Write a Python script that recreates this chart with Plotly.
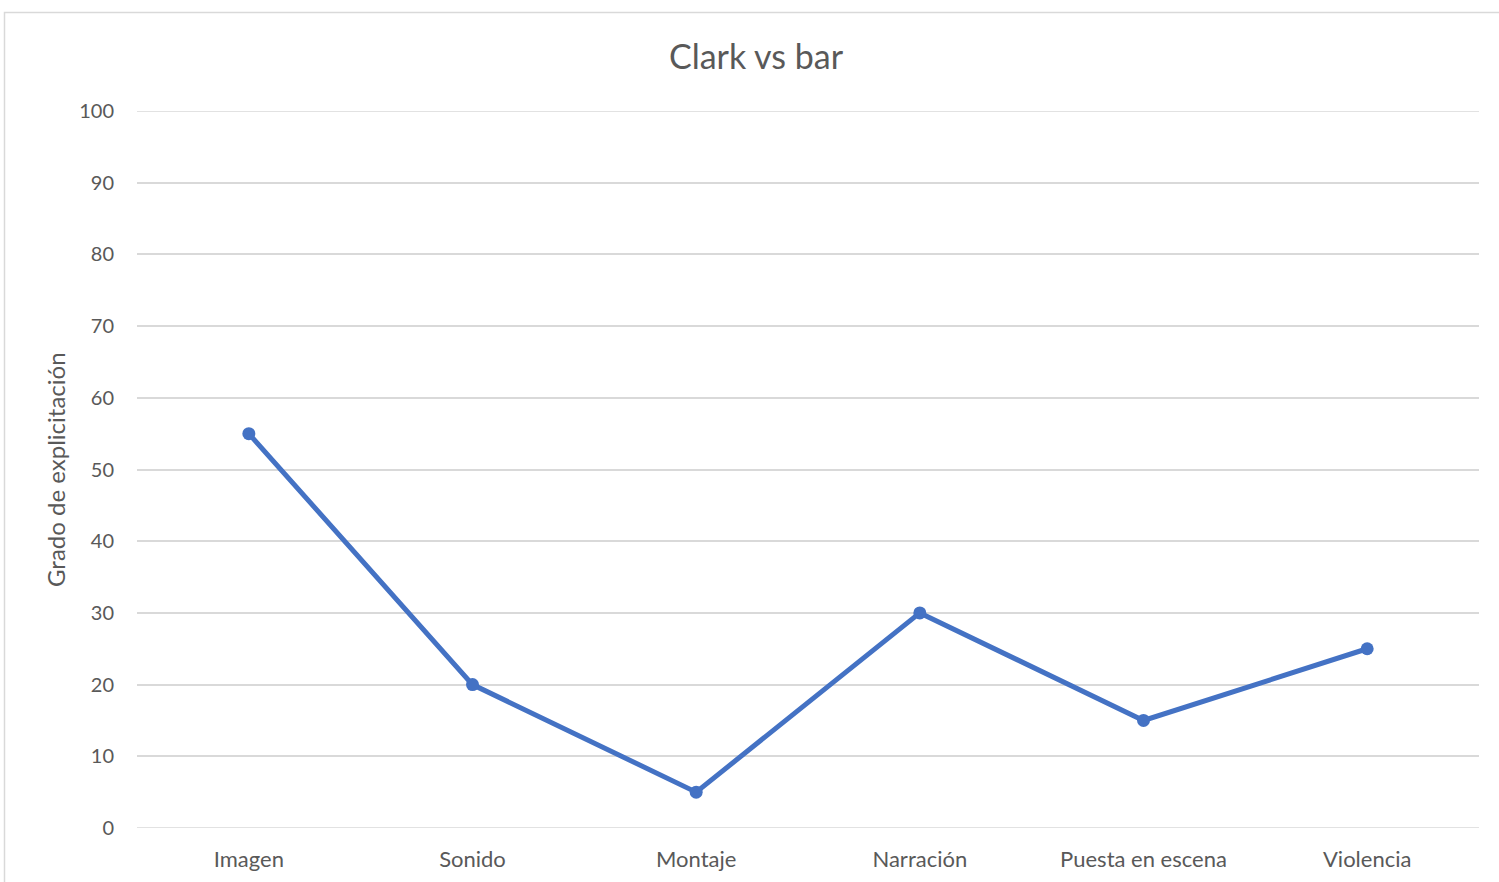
import plotly.graph_objects as go

categories = ["Imagen", "Sonido", "Montaje", "Narración", "Puesta en escena", "Violencia"]
values = [55, 20, 5, 30, 15, 25]
y_ticks = [0, 10, 20, 30, 40, 50, 60, 70, 80, 90, 100]

W, H = 1499, 882
L, R, T, B = 137, 1479, 111, 828
pw, ph = R - L, B - T

def px(x):
    return (x - L) / pw

def py(y):
    return (B - y) / ph

FONT = "Lato"
TXT = "#595959"
GRID = "#d9d9d9"
BLUE = "#4472C4"

fig = go.Figure()
fig.add_trace(go.Scatter(
    x=categories, y=values, mode="lines+markers",
    line=dict(color=BLUE, width=5),
    marker=dict(color=BLUE, size=13),
    showlegend=False, cliponaxis=False,
))

shapes = [dict(type="rect", xref="paper", yref="paper",
               x0=px(4.5), x1=px(1503), y0=py(886), y1=py(12.5),
               line=dict(color=GRID, width=1.5), layer="below")]
for yv in (y_ticks[0], y_ticks[-1]):
    shapes.append(dict(type="line", xref="paper", yref="y", x0=0, x1=1, y0=yv, y1=yv,
                       line=dict(color=GRID, width=1.5), layer="below"))

fig.update_layout(
    width=W, height=H,
    margin=dict(l=L, r=W - R, t=T, b=H - B, autoexpand=False),
    paper_bgcolor="white", plot_bgcolor="white",
    font=dict(family=FONT, color=TXT, size=20),
    title=dict(text="Clark vs bar", x=756 / W, xanchor="center", y=1 - 57 / H, yanchor="middle",
               font=dict(family=FONT, size=34, color=TXT)),
    xaxis=dict(type="category", range=[-0.5, 5.5], showgrid=False, zeroline=False,
               showline=False, ticks="", ticklabelstandoff=16, fixedrange=True, automargin=False,
               tickfont=dict(family=FONT, size=22, color=TXT)),
    yaxis=dict(range=[0, 100], tickvals=y_ticks, showgrid=True, gridcolor=GRID, gridwidth=1.5,
               zeroline=False, showline=False, ticks="", ticklabelstandoff=22, fixedrange=True,
               automargin=False, tickfont=dict(family=FONT, size=20, color=TXT)),
    shapes=shapes,
    annotations=[dict(text="Grado de explicitación", textangle=-90, xref="paper", yref="paper",
                      x=px(56), y=py(470), xanchor="center", yanchor="middle", showarrow=False,
                      font=dict(family=FONT, size=24, color=TXT))],
)

fig.write_html("out.html")
